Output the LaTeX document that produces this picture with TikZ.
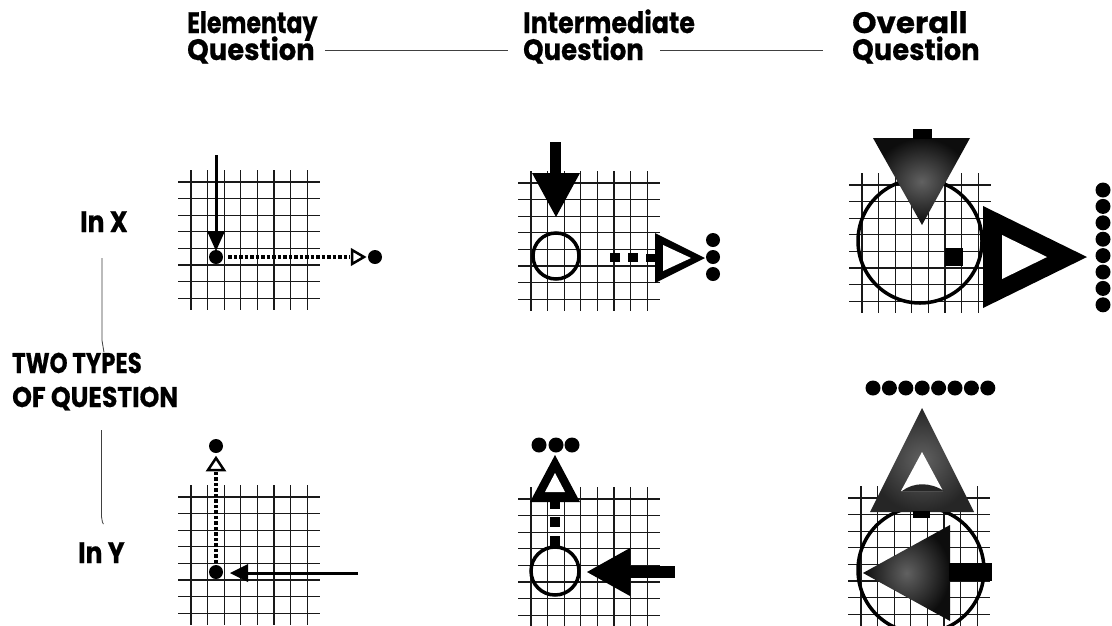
\documentclass[tikz,border=0pt]{standalone}
\usepackage{fontspec}
\usepackage{graphicx}
\setmainfont{Poppins}[BoldFeatures={FakeBold=0.6}]
\newcommand\narrow[2]{\scalebox{#1}[1]{#2}}
\newcommand\qgrid[2]{%
  \foreach \k in {0,...,7}{%
    \draw[gridline] ({#1+16.6*\k},{#2-12}) -- ({#1+16.6*\k},{#2+128});
    \draw[gridline] ({#1-13},{#2+16.6*\k}) -- ({#1+129},{#2+16.6*\k});
  }}
\begin{document}
\begin{tikzpicture}[x=1pt,y=-1pt,
  lbl/.style={font=\fontsize{29.5}{30}\selectfont\bfseries, inner sep=0pt, anchor=base west},
  sidelbl/.style={font=\fontsize{28.5}{30}\selectfont\bfseries, inner sep=0pt, anchor=base west},
  rule/.style={line width=0.8pt, black!75},
  gridline/.style={line width=1.2pt, black!90},
  shaft/.style={line width=3pt},
  dotrule/.style={line width=3.5pt, dash pattern=on 3.5pt off 2pt},
  opentip/.style={line width=2.5pt, line join=miter, fill=white},
  ring/.style={line width=3.5pt},
  bead/.style={fill=black},
  stipple/.style={inner color=black!62, outer color=black!95},
]
\fill[white] (0,0) rectangle (1112,625);
\useasboundingbox (0,0) rectangle (1112,625);

% headings
\node[lbl] (e1) at (187,33) {\narrow{0.8}{Elementay}};
\node[lbl] (q1) at (187,60) {\narrow{0.93}{Question}};
\node[lbl] (e2) at (523,33) {\narrow{0.86}{Intermediate}};
\node[lbl] (q2) at (523,60) {\narrow{0.88}{Question}};
\node[lbl] (e3) at (852,33) {\narrow{1.05}{Overall}};
\node[lbl] (q3) at (852,60) {\narrow{0.93}{Question}};
\draw[rule] ([xshift=10pt]q1.east) -- ([xshift=-15pt]q2.west);
\draw[rule] ([xshift=16pt]q2.east) -- ([xshift=-29pt]q3.west);

% row labels
\node[lbl] (inx) at (80,232) {\narrow{0.85}{In X}};
\node[lbl] (iny) at (78,563) {\narrow{0.85}{In Y}};
\node[sidelbl] (two1) at (12,373) {\narrow{0.8}{TWO TYPES}};
\node[sidelbl] (two2) at (12,407) {\narrow{0.88}{OF QUESTION}};
\draw[rule] (inx.south) ++(-2,26) -- ++(0,82) -- ++(2,12);
\draw[rule] (iny.north) ++(0,-112) -- ++(0,86) -- ++(1,6) -- ++(1,2);

% grids
\qgrid{191}{182}
\qgrid{531}{183}
\qgrid{862}{185}
\qgrid{191}{497}
\qgrid{531}{499}
\qgrid{861}{498}

% elementary, in X
\draw[shaft] (216,155) -- (216,232);
\fill (207,231) -- (225,231) -- (216,251) -- cycle;
\fill[bead] (216,257) circle[radius=7pt];
\draw[dotrule] (228,257) -- (350,257);
\draw[opentip] (352,250) -- (364,257) -- (352,264) -- cycle;
\fill[bead] (375,257) circle[radius=7pt];

% elementary, in Y
\fill[bead] (216,572) circle[radius=7pt];
\draw[dotrule] (216,563) -- (216,472);
\draw[opentip] (208,470) -- (216,458) -- (224,470) -- cycle;
\fill[bead] (216,446) circle[radius=7pt];
\draw[shaft] (358,573) -- (246,573);
\fill (230,573) -- (248,564) -- (248,582) -- cycle;

% intermediate, in X
\fill (550,142) rectangle (561,174);
\fill (532,173) -- (580,173) -- (556,217) -- cycle;
\draw[ring] (556,256) circle[radius=23pt];
\fill (610,253) rectangle (620,262);
\fill (628,253) rectangle (638,262);
\fill (646,254) rectangle (656,262);
\fill (655,233) -- (705,258) -- (655,283) -- cycle;
\fill[white] (663,245) -- (691,258) -- (663,271) -- cycle;
\foreach \y in {240,257,274} \fill[bead] (713,\y) circle[radius=7pt];

% intermediate, in Y
\foreach \x in {539,556,572} \fill[bead] (\x,445) circle[radius=7.5pt];
\fill (555,455) -- (580,502) -- (530,502) -- cycle;
\fill[white] (555,473) -- (565,492) -- (545,492) -- cycle;
\fill (550,502) rectangle (560,509);
\fill (550,517) rectangle (560,527);
\fill (550,536) rectangle (560,546);
\draw[ring] (555,571) circle[radius=24pt];
\fill (587,572) -- (630,548) -- (630,596) -- cycle;
\fill (629,566) rectangle (675,578);

% overall, in X
\draw[ring] (920,241) circle[radius=62pt];
\shade[stipple] (873,138) -- (970,138) -- (922,225) -- cycle;
\fill (913,129) rectangle (932,139);
\fill (945,248) rectangle (963,266);
\fill (983,206) -- (1087,257) -- (983,308) -- cycle;
\fill[white] (1002,235) -- (1047,257) -- (1002,279) -- cycle;
\foreach \k in {0,...,7} \fill[bead] (1103,{190+16.4*\k}) circle[radius=7.5pt];

% overall, in Y
\foreach \k in {0,...,7} \fill[bead] ({873+16.4*\k},388) circle[radius=7.5pt];
\draw[ring] (921,570) circle[radius=63pt];
\shade[inner color=black!62, outer color=black!85] (922,408) -- (974,512) -- (870,512) -- cycle;
\fill[white] (922,452) -- (943,491) -- (901,491) -- cycle;
\fill[black!85] (902,491) .. controls (914,482) and (930,482) .. (944,491) -- cycle;
\fill (913,511) rectangle (930,518);
\shade[stipple] (863,573) -- (950,525) -- (950,621) -- cycle;
\fill (949,563) rectangle (992,581);
\end{tikzpicture}
\end{document}
